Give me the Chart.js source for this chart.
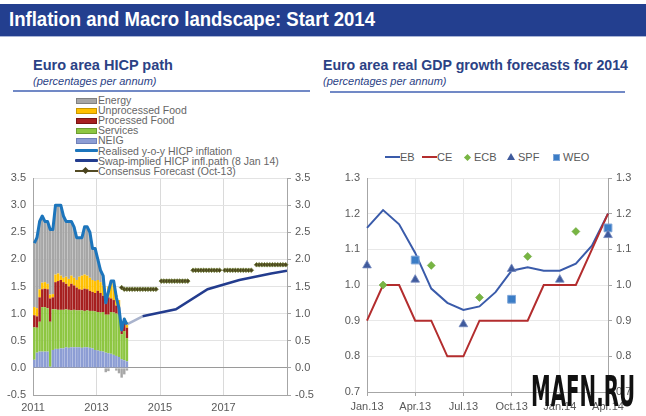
<!DOCTYPE html>
<html><head><meta charset="utf-8">
<script src="https://cdn.jsdelivr.net/npm/chart.js@4.4.1/dist/chart.umd.min.js"></script>
<style>
body{margin:0;width:646px;height:416px;overflow:hidden;background:#fff;font-family:"Liberation Sans",Arial,sans-serif;position:relative}
.abs{position:absolute}
#hdr{left:0;top:4px;width:646px;height:32px;background:#233F8F}
#hdrline{left:0;top:36px;width:646px;height:1px;background:#A9B5D6}
#hdrtxt{left:9px;top:9px;color:#fff;font-weight:bold;font-size:20px;line-height:20px;white-space:nowrap;transform-origin:0 0}
.ttl{font-weight:bold;font-size:14.5px;line-height:16px;color:#2B4285;white-space:nowrap;transform-origin:0 0}
.sub{font-style:italic;font-size:11px;line-height:12px;color:#2B4285;white-space:nowrap}
.uline{height:1.5px;background:#7189C6}
.lg{font-size:10.5px;line-height:12px;color:#666;white-space:nowrap}
.sw{position:absolute;left:76px;width:19px;height:4px}
.lgt{position:absolute;left:98px}
.rlg{font-size:11px;line-height:12px;color:#595959;white-space:nowrap}
#wm{left:531px;top:370px;font-family:"Liberation Sans Narrow","DejaVu Sans Condensed",sans-serif;font-weight:bold;font-size:42px;line-height:44px;color:#111;white-space:nowrap;transform-origin:0 0}
</style></head>
<body>
<div id="hdr" class="abs"></div>
<div id="hdrline" class="abs"></div>
<div id="hdrtxt" class="abs">Inflation and Macro landscape: Start 2014</div>

<div id="t1" class="abs ttl" style="left:33px;top:57px">Euro area HICP path</div>
<div class="abs sub" style="left:33px;top:75px">(percentages per annum)</div>
<div class="abs uline" style="left:13px;top:90px;width:297px"></div>

<div id="t2" class="abs ttl" style="left:323px;top:57px">Euro area real GDP growth forecasts for 2014</div>
<div class="abs sub" style="left:323px;top:75px">(percentages per annum)</div>
<div class="abs uline" style="left:330px;top:91px;width:295px"></div>

<div id="leg1" class="abs" style="left:0;top:0"></div>
<div id="leg2" class="abs" style="left:0;top:0"></div>

<div class="abs" style="left:0;top:172px;width:320px;height:244px"><canvas id="c1"></canvas></div>
<div class="abs" style="left:320px;top:140px;width:326px;height:276px"><canvas id="c2"></canvas></div>

<div id="wm" class="abs">MAFN.RU</div>

<script>
// ---------- Left chart data (monthly, Jan 2011 - Dec 2013) ----------
const barStartYear = 2011;
const neig        = [0.15,0.28,0.30,0.30,0.30,0.30,0.02,0.33,0.35,0.35,0.36,0.36, 0.38,0.37,0.38,0.38,0.38,0.38,0.37,0.38,0.38,0.37,0.36,0.33, 0.32,0.31,0.30,0.28,0.27,0.26,0.24,0.22,0.20,0.16,0.14,0.12];
const services    = [0.60,0.46,0.55,0.82,0.82,0.80,0.83,0.75,0.73,0.72,0.71,0.71, 0.70,0.70,0.68,0.69,0.68,0.68,0.69,0.67,0.68,0.68,0.69,0.71, 0.71,0.71,0.73,0.70,0.71,0.77,0.78,0.78,0.78,0.46,0.54,0.43];
const processed   = [0.22,0.21,0.45,0.33,0.34,0.35,0.43,0.22,0.50,0.53,0.55,0.51, 0.47,0.43,0.49,0.45,0.42,0.39,0.38,0.41,0.39,0.37,0.35,0.34, 0.39,0.36,0.30,0.24,0.32,0.25,0.23,0.15,0.14,0.16,0.17,0.19];
const unprocessed = [0.15,0.15,0.15,0.12,0.12,0.10,0.07,0.06,0.14,0.14,0.08,0.08, 0.13,0.14,0.15,0.14,0.14,0.23,0.26,0.26,0.25,0.24,0.22,0.22, 0.20,0.20,0.19,0.08,0.20,0.30,0.35,0.19,0.13,0.07,0.07,0.10];
const energy      = [1.18,1.30,1.25,1.23,1.12,1.15,1.20,1.19,1.28,1.26,1.30,1.14, 1.02,1.06,1.00,0.94,0.78,0.72,0.70,0.88,0.90,0.84,0.58,0.60, 0.38,0.22,0.18,-0.08,-0.06,0.02,0.02,-0.05,-0.10,-0.18,-0.12,-0.05];
const hicpRealised= [2.3,2.4,2.7,2.8,2.7,2.7,2.55,2.55,3.0,3.0,3.0,2.8, 2.7,2.7,2.7,2.6,2.4,2.4,2.4,2.6,2.6,2.5,2.2,2.2, 2.0,1.8,1.7,1.2,1.4,1.6,1.6,1.3,1.1,0.7,0.9,0.8];

// Swap-implied HICP path (8 Jan 14)
const swapYears  = [2013.96, 2014.45, 2015.5, 2016.5, 2017.5, 2018.5, 2019.0];
const swapValues = [0.80, 0.95, 1.08, 1.45, 1.62, 1.74, 1.79];

// Consensus Forecast (Oct-13), monthly from Oct 2013 to Dec 2018 (null = gap)
const consStartYear = 2013.75;
const consensus = [1.48,1.45,1.45,
  1.45,1.45,1.45,1.45,1.45,1.45,1.45,1.45,1.45,1.45,1.45,null,
  1.6,1.6,1.6,1.6,1.6,1.6,1.6,1.6,1.6,1.6,1.6,null,
  1.8,1.8,1.8,1.8,1.8,1.8,1.8,1.8,1.8,1.8,1.8,null,
  1.8,1.8,1.8,1.8,1.8,1.8,1.8,1.8,1.8,1.8,1.8,null,
  1.9,1.9,1.9,1.9,1.9,1.9,1.9,1.9,1.9,1.9,1.9,1.9];

const leftTicksX = [2011, 2013, 2015, 2017];

// ---------- Right chart data ----------
const gdpMonths = ['Jan.13','Feb.13','Mar.13','Apr.13','May.13','Jun.13','Jul.13','Aug.13','Sep.13','Oct.13','Nov.13','Dec.13','Jan.14','Feb.14','Mar.14','Apr.14'];
const ebValues  = [1.16,1.21,1.17,1.09,0.99,0.95,0.93,0.94,0.98,1.04,1.05,1.04,1.04,1.06,1.11,1.20];
const ceValues  = [0.9,1.0,1.0,0.9,0.9,0.8,0.8,0.9,0.9,0.9,0.9,1.0,1.0,1.0,1.1,1.2];
const ecbValues = [null,1.0,null,null,1.055,null,null,0.965,null,null,1.08,null,null,1.15,null,null];
const spfValues = [1.055,null,null,1.015,null,null,0.89,null,null,1.045,null,null,1.015,null,null,1.14];
const weoValues = [null,null,null,1.07,null,null,null,null,null,0.96,null,null,null,null,null,1.16];

// ---------- Colours ----------
const C = {
  energy:'#A6A6A6', unproc:'#FFC000', proc:'#A61F1F', serv:'#8DC641', neig:'#8C9DD4',
  realised:'#1C75BC', swap:'#233C8E', swapLight:'#A9B3CC', cons:'#544B24',
  eb:'#3A5BAA', ce:'#B32D2E', ecb:'#78B543', spf:'#3F5A9C', weo:'#3B7DC6'
};

// ---------- HTML legends ----------
const leg1Items = [
  {t:'Energy', k:'box', c:C.energy, b:'#808080'},
  {t:'Unprocessed Food', k:'box', c:C.unproc, b:'#C79600'},
  {t:'Processed Food', k:'box', c:C.proc, b:'#7A1212'},
  {t:'Services', k:'box', c:C.serv, b:'#6C9C32'},
  {t:'NEIG', k:'box', c:C.neig, b:'#6F80B8'},
  {t:'Realised y-o-y HICP inflation', k:'line', c:C.realised, w:3},
  {t:'Swap-implied HICP infl.path (8 Jan 14)', k:'line', c:C.swap, w:2.5},
  {t:'Consensus Forecast (Oct-13)', k:'cons', c:C.cons, w:2}
];
const leg1 = document.getElementById('leg1');
leg1Items.forEach((it, i) => {
  const cy = 100 + i * 10.1;
  const row = document.createElement('div');
  row.className = 'abs lg';
  row.style.top = (cy - 6) + 'px'; row.style.left = '0px'; row.style.height = '12px'; row.style.width='320px';
  let sw = '';
  if (it.k === 'box') sw = `<div class="sw" style="top:4px;background:${it.c};border:1px solid ${it.b};"></div>`;
  else if (it.k === 'line') sw = `<div class="sw" style="left:75px;width:23px;top:${6 - it.w/2}px;height:${it.w}px;background:${it.c};border-radius:1px"></div>`;
  else sw = `<div class="sw" style="left:75px;width:23px;top:5px;height:2px;background:${it.c}"></div><div class="sw" style="left:83px;top:3px;width:5px;height:5px;background:#4A431E;transform:rotate(45deg)"></div>`;
  row.innerHTML = sw + `<span class="lgt">${it.t}</span>`;
  leg1.appendChild(row);
});

const leg2Items = [
  {t:'EB', k:'line', c:C.eb, x:385, tx:400},
  {t:'CE', k:'line', c:C.ce, x:422, tx:437},
  {t:'ECB', k:'diamond', c:C.ecb, x:467, tx:474},
  {t:'SPF', k:'tri', c:C.spf, x:511, tx:518},
  {t:'WEO', k:'sq', c:C.weo, x:556, tx:563}
];
const leg2 = document.getElementById('leg2');
leg2Items.forEach(it => {
  const cy = 157;
  let sym = '';
  if (it.k === 'line') sym = `<div class="abs" style="left:${it.x}px;top:${cy-1}px;width:15px;height:2px;background:${it.c}"></div>`;
  else if (it.k === 'diamond') sym = `<div class="abs" style="left:${it.x-2.5}px;top:${cy-2.5}px;width:5px;height:5px;background:${it.c};transform:rotate(45deg)"></div>`;
  else if (it.k === 'tri') sym = `<div class="abs" style="left:${it.x-4}px;top:${cy-4}px;width:0;height:0;border-left:4px solid transparent;border-right:4px solid transparent;border-bottom:7px solid ${it.c}"></div>`;
  else sym = `<div class="abs" style="left:${it.x-3.5}px;top:${cy-3.5}px;width:5px;height:5px;background:${it.c};border:1px solid #7FA6D8"></div>`;
  const d = document.createElement('div');
  d.innerHTML = sym + `<div class="abs rlg" style="left:${it.tx}px;top:${cy-6.5}px">${it.t}</div>`;
  leg2.appendChild(d);
});

// fit header text, titles & watermark to reference widths
(function(){
  const fit = (id, target) => { const e = document.getElementById(id); e.style.transform = `scaleX(${target / e.getBoundingClientRect().width})`; };
  fit('hdrtxt', 366);
  fit('t1', 140);
  fit('t2', 305);
  fit('wm', 104);
})();

// ---------- Left chart ----------
const barX = i => barStartYear + (i + 0.5) / 12;
const toPts = arr => arr.map((v, i) => ({x: barX(i), y: v}));
const axisGray = '#A6A6A6';
const tickFont = {family:'"Liberation Sans", Arial, sans-serif', size:11};
const noVPad = s => { s.paddingTop = 0; s.paddingBottom = 0; };

function barDs(label, data, color) {
  return {type:'bar', label, data: toPts(data), backgroundColor: color, borderWidth: 0,
          barPercentage: 0.92, categoryPercentage: 1, yAxisID: 'y', order: 10};
}

new Chart(document.getElementById('c1'), {
  data: {
    datasets: [
      barDs('NEIG', neig, C.neig),
      barDs('Services', services, C.serv),
      barDs('Processed Food', processed, C.proc),
      barDs('Unprocessed Food', unprocessed, C.unproc),
      barDs('Energy', energy, C.energy),
      {type:'line', label:'Realised y-o-y HICP inflation', data: toPts(hicpRealised), borderColor: C.realised,
       borderWidth: 3, pointRadius: 0, tension: 0, yAxisID: 'y1', order: 1, borderJoinStyle:'round'},
      {type:'line', label:'Swap-implied HICP infl.path (8 Jan 14)', data: swapYears.map((x, i) => ({x, y: swapValues[i]})),
       borderColor: C.swap, borderWidth: 2.5, pointRadius: 0, tension: 0, yAxisID: 'y1', order: 2,
       segment: {borderColor: ctx => ctx.p0DataIndex === 0 ? C.swapLight : C.swap}},
      {type:'line', label:'Consensus Forecast (Oct-13)', data: consensus.map((v, i) => ({x: consStartYear + (i + 0.5) / 12, y: v})),
       borderColor: C.cons, borderWidth: 2.5, spanGaps: false, tension: 0, yAxisID: 'y1', order: 3,
       pointStyle: 'rectRot', pointRadius: 2.3, pointBackgroundColor: '#4A431E', pointBorderColor: '#6F7C36', pointBorderWidth: 0.8, clip: false}
    ]
  },
  options: {
    responsive: true, maintainAspectRatio: false, animation: false,
    layout: {padding: {top: 6, left: 0, right: 0, bottom: 0}},
    plugins: {legend: {display: false}, tooltip: {enabled: false}},
    scales: {
      x: {type: 'linear', min: 2011, max: 2019, stacked: true, offset: false,
          afterBuildTicks: s => { s.ticks = leftTicksX.concat([2019]).map(v => ({value: v})); },
          ticks: {callback: v => leftTicksX.includes(v) ? String(v) : '', color: '#595959', font: tickFont, maxRotation: 0, padding: 6},
          grid: {color: '#DADADA', drawTicks: false, offset: false},
          border: {color: axisGray},
          afterFit: s => { s.height = 21; s.paddingLeft = 0; s.paddingRight = 0; }},
      y: {stacked: true, min: -0.5, max: 3.5, position: 'left',
          ticks: {stepSize: 0.5, callback: v => Number(v).toFixed(1), color: '#595959', font: tickFont, padding: 7},
          grid: {color: ctx => (Math.abs(ctx.tick.value) < 1e-9 ? '#9A9A9A' : '#E3E3E3'), drawTicks: false},
          border: {color: axisGray},
          afterFit: s => { s.width = 33; noVPad(s); }},
      y1: {min: -0.5, max: 3.5, position: 'right',
          ticks: {stepSize: 0.5, callback: v => Number(v).toFixed(1), color: '#595959', font: tickFont, padding: 4},
          grid: {drawOnChartArea: false, drawTicks: true, tickLength: 4, color: axisGray},
          border: {color: axisGray},
          afterFit: s => { s.width = 33; noVPad(s); }}
    }
  }
});

// ---------- Right chart ----------
new Chart(document.getElementById('c2'), {
  type: 'line',
  data: {
    labels: gdpMonths,
    datasets: [
      {label:'EB', data: ebValues, borderColor: C.eb, borderWidth: 2, pointRadius: 0, tension: 0, order: 5},
      {label:'CE', data: ceValues, borderColor: C.ce, borderWidth: 2, pointRadius: 0, tension: 0, order: 4},
      {label:'ECB', data: ecbValues, showLine: false, pointStyle: 'rectRot', pointRadius: 4, pointBackgroundColor: C.ecb, pointBorderColor: '#62A032', pointBorderWidth: 0.5, clip: false, order: 1},
      {label:'SPF', data: spfValues, showLine: false, pointStyle: 'triangle', pointRadius: 5, pointBackgroundColor: C.spf, pointBorderColor: '#7288BE', pointBorderWidth: 0.8, clip: false, order: 2},
      {label:'WEO', data: weoValues, showLine: false, pointStyle: 'rect', pointRadius: 5.5, pointBackgroundColor: C.weo, pointBorderColor: '#7FA6D8', pointBorderWidth: 1, clip: false, order: 3}
    ]
  },
  options: {
    responsive: true, maintainAspectRatio: false, animation: false,
    layout: {padding: {top: 38, left: 0, right: 0, bottom: 0}},
    plugins: {legend: {display: false}, tooltip: {enabled: false}},
    scales: {
      x: {offset: false,
          ticks: {autoSkip: false, maxRotation: 0, callback: (v, i) => (i % 3 === 0 ? gdpMonths[i] : ''), color: '#595959', font: tickFont, padding: 4},
          grid: {color: ctx => (ctx.index % 3 === 0 ? '#E6E6E6' : 'rgba(0,0,0,0)'),
                 tickColor: ctx => (ctx.index % 3 === 0 ? axisGray : 'rgba(0,0,0,0)'), tickLength: 4},
          border: {color: axisGray},
          afterFit: s => { s.height = 24; }},
      y: {min: 0.7, max: 1.3, position: 'left',
          ticks: {stepSize: 0.1, callback: v => Number(v).toFixed(1), color: '#595959', font: tickFont, padding: 7},
          grid: {color: '#E8E8E8', drawTicks: false},
          border: {color: axisGray},
          afterFit: s => { s.width = 47; }},
      y1: {min: 0.7, max: 1.3, position: 'right',
          ticks: {stepSize: 0.1, callback: v => Number(v).toFixed(1), color: '#595959', font: tickFont, padding: 4},
          grid: {drawOnChartArea: false, drawTicks: true, tickLength: 4, color: axisGray},
          border: {color: axisGray},
          afterFit: s => { s.width = 38; }}
    }
  }
});
</script>
</body></html>
